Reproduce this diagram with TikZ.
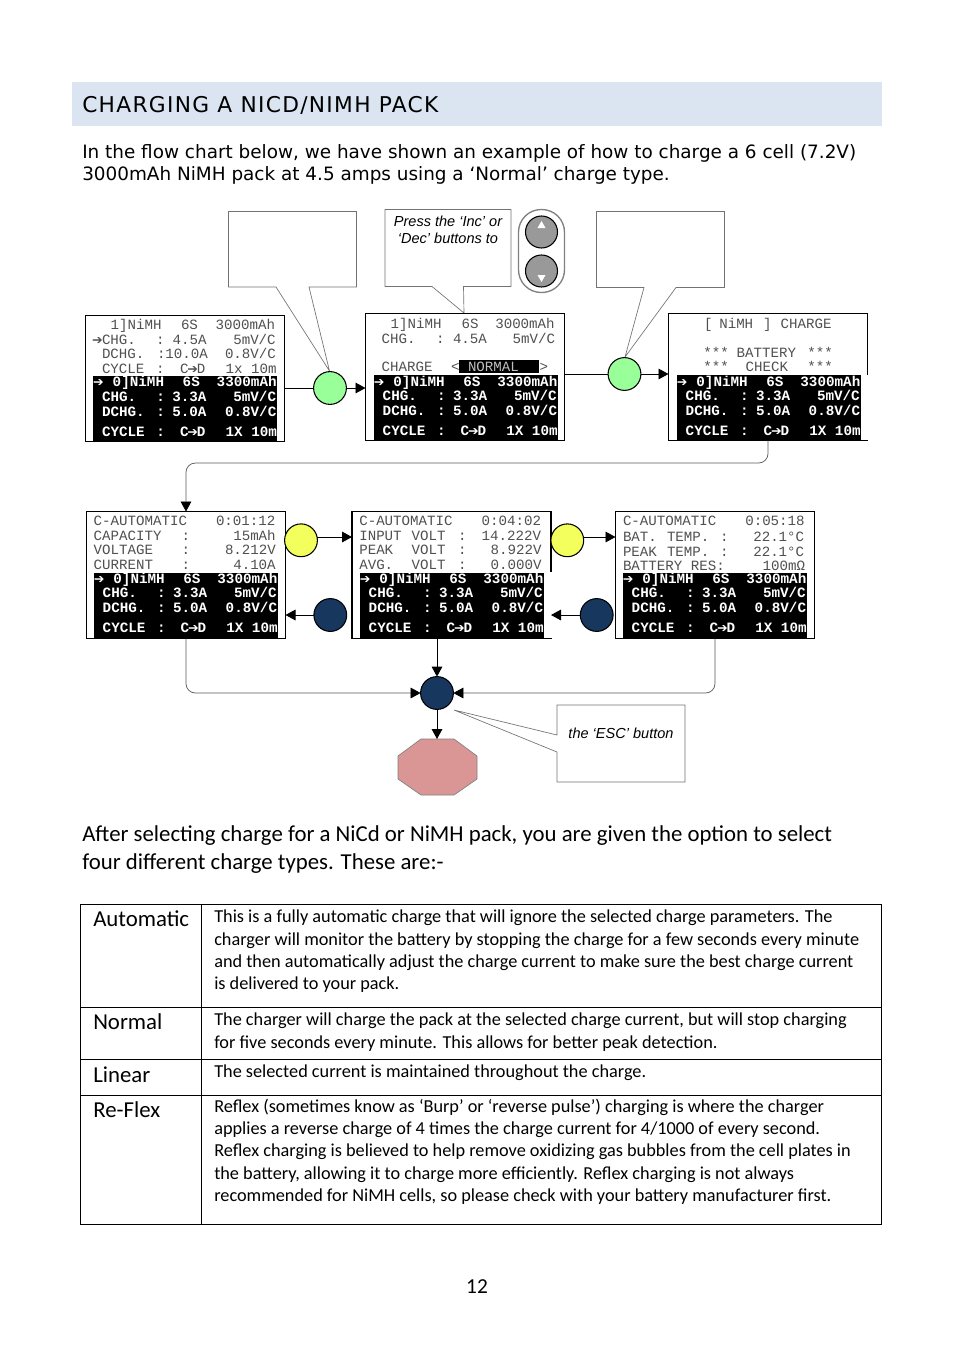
\documentclass[tikz,border=0pt]{standalone}
\usepackage{fontspec}
\usetikzlibrary{arrows.meta,fit}
\setmainfont{Carlito}
\setmonofont{Liberation Mono}
\newfontfamily\symf{DejaVu Sans}
\newfontfamily\vfont{DejaVu Sans}
\newfontfamily\hfont[LetterSpace=6]{DejaVu Sans}
\newfontfamily\afont{Liberation Sans}
\definecolor{lcdgrey}{HTML}{505050}
\definecolor{navy}{HTML}{17375E}
\definecolor{lime}{HTML}{99FF99}
\definecolor{lemon}{HTML}{F2FF5C}
\definecolor{band}{HTML}{DBE5F1}
\definecolor{rosy}{HTML}{D99694}
\newcounter{tn}
\tikzset{
  lcdg/.style={anchor=base west,inner sep=0pt,outer sep=0pt,text=lcdgrey,font=\ttfamily\fontsize{10.6}{12}\selectfont},
  lcdb/.style={anchor=base west,inner sep=0pt,outer sep=0pt,text=white,font=\ttfamily\bfseries\fontsize{10.7}{12}\selectfont},
  screenbox/.style={draw=black,line width=0.9pt,fill=white,inner sep=0pt,outer sep=0pt},
  callout/.style={draw=black!55,line width=0.5pt,fill=white,line join=miter},
  note/.style={inner sep=0pt,align=center,font=\afont\itshape\fontsize{10.9}{12.4}\selectfont},
  dot/.style={circle,draw=black,line width=0.8pt,inner sep=0pt,minimum size=24.6pt,outer sep=0pt},
  flow/.style={draw=black,line width=0.7pt,-{Triangle[length=7.5pt,width=8pt]}},
  plainflow/.style={draw=black,line width=0.7pt},
  softflow/.style={draw=black!65,line width=0.55pt,rounded corners=7pt},
  softarrow/.style={softflow,-{Triangle[length=7.5pt,width=8pt,color=black]}},
  cellhead/.style={anchor=base west,inner sep=0pt,font=\fontsize{17.1}{20}\selectfont},
  cellbody/.style={anchor=north west,inner sep=0pt,align=left,font=\fontsize{13.7}{16.6}\selectfont},
  rule/.style={draw=black,line width=0.6pt},
}
\newcommand\ga[3]{\stepcounter{tn}\node[lcdg] (tx\arabic{tn}) at (#1,#2) {#3};}
\newcommand\wa[3]{\stepcounter{tn}\node[lcdb] (tx\arabic{tn}) at (#1,#2) {#3};}
\newcommand\arw{\makebox[6.3pt]{\symf\fontsize{9.5}{10}\selectfont ➔}}
\newcommand\panel[2]{%
  \begin{scope}[shift={(#1,#2)}]
  \fill[black] (0,0) rectangle (184,65);
  \wa{1}{10.7}{\arw}\wa{19.4}{10.7}{0]NiMH}\wa{89.4}{10.7}{6S}\wa{123.4}{10.7}{3300mAh}
  \wa{8.7}{25}{CHG.}\wa{63}{25}{:}\wa{79}{25}{3.3A}\wa{140}{25}{5mV/C}
  \wa{8.7}{40}{DCHG.}\wa{63}{40}{:}\wa{79}{40}{5.0A}\wa{131.7}{40}{0.8V/C}
  \wa{8.7}{60}{CYCLE}\wa{63}{60}{:}\wa{86.7}{60}{C\arw D}\wa{132.3}{60}{1X 10m}
  \end{scope}}
\begin{document}
\begin{tikzpicture}[x=0.75pt,y=-0.75pt]
\useasboundingbox (0,0) rectangle (954,1354);
% heading
\fill[band] (72,82) rectangle (882,126);
\node[anchor=base west,inner sep=0pt,font=\hfont\fontsize{16.3}{18}\selectfont] (head) at (82,112) {CHARGING A NICD/NIMH PACK};
\node[anchor=north west,inner sep=0pt,align=left,font=\vfont\fontsize{13.8}{16}\selectfont] (intro) at (82,144.7) {In the flow chart below, we have shown an example of how to charge a 6 cell (7.2V)\\3000mAh NiMH pack at 4.5 amps using a ‘Normal’ charge type.};
% callouts
\draw[callout] (228.5,211.5) -- (356.5,211.5) -- (356.5,287) -- (309,287) -- (329.5,371) -- (276,287) -- (228.5,287) -- cycle;
\draw[callout] (385,209.5) -- (511,209.5) -- (511,286.5) -- (463.5,286.5) -- (464,313) -- (432,286.5) -- (385,286.5) -- cycle;
\draw[callout] (596.5,211.5) -- (724.5,211.5) -- (724.5,287.5) -- (676,287.5) -- (625,357) -- (644,287.5) -- (596.5,287.5) -- cycle;
\node[note] (n1) at (448,230) {Press the ‘Inc’ or\\‘Dec’ buttons to};
% buttons
\draw[draw=black!50,line width=1pt,fill=white,rounded corners=17pt] (518.5,209.5) rectangle (564.5,292.5);
\node[dot,fill=black!40,minimum size=24pt] (b1) at (541.5,232) {};
\node[dot,fill=black!40,minimum size=24pt] (b2) at (541.5,271) {};
\fill[white] (541.5,221) -- (545.5,228) -- (537.5,228) -- cycle;
\fill[white] (541.5,282) -- (545.5,275) -- (537.5,275) -- cycle;
% screens
\node[screenbox,fit={(85.5,315.5)(284.5,441.5)}] (s1) {};
\node[screenbox,fit={(365.5,313.5)(564.5,440.5)}] (s2) {};
\node[screenbox,fit={(668.5,313.5)(867.5,440.5)}] (s3) {};
\node[screenbox,fit={(86.5,511.5)(285.5,638.5)}] (s4) {};
\node[screenbox,fit={(352,511.5)(551,638.5)}] (s5) {};
\node[screenbox,fit={(615.5,511.5)(814.5,638.5)}] (s6) {};
\fill[white] (866,375) rectangle (869,439.6);
\fill[white] (549.5,572) rectangle (552,637.6);
% screen 1
\ga{110.7}{329}{1]NiMH}\ga{181}{329}{6S}\ga{215.7}{329}{3000mAh}
\ga{93.3}{344}{\arw}\ga{102}{344}{CHG.}\ga{156}{344}{:}\ga{172.7}{344}{4.5A}\ga{233.3}{344}{5mV/C}
\ga{102}{358}{DCHG.}\ga{157}{358}{:10.0A}\ga{225}{358}{0.8V/C}
\ga{102}{373}{CYCLE}\ga{156}{373}{:}\ga{180}{373}{C\arw D}\ga{225.7}{373}{1x 10m}
\panel{93.3}{376}
% screen 2
\ga{390.7}{328.5}{1]NiMH}\ga{461.7}{328.5}{6S}\ga{495.3}{328.5}{3000mAh}
\ga{381.7}{343}{CHG.}\ga{436}{343}{:}\ga{453}{343}{4.5A}\ga{512.7}{343}{5mV/C}
\ga{381.7}{371}{CHARGE}\ga{451}{371}{<}\ga{539.7}{371}{>}
\fill[black] (459.3,360) rectangle (539,373);
\ga{468}{371}{\textcolor{black!25}{NORMAL}}
\panel{374}{375.4}
% screen 3
\ga{704}{328.5}{[}\ga{719.3}{328.5}{NiMH}\ga{763}{328.5}{]}\ga{780.7}{328.5}{CHARGE}
\ga{703.3}{357}{***}\ga{736.7}{357}{BATTERY}\ga{807.3}{357}{***}
\ga{703.3}{371}{***}\ga{745.7}{371}{CHECK}\ga{807.3}{371}{***}
\panel{677}{375.4}
% screen 4
\ga{93.7}{525}{C-AUTOMATIC}\ga{216}{525}{0:01:12}
\ga{93.7}{540}{CAPACITY}\ga{181.7}{540}{:}\ga{233.3}{540}{15mAh}
\ga{93.7}{554.5}{VOLTAGE}\ga{181.7}{554.5}{:}\ga{225}{554.5}{8.212V}
\ga{93.7}{569}{CURRENT}\ga{181.7}{569}{:}\ga{233.3}{569}{4.10A}
\panel{94}{572.5}
% screen 5
\ga{359.3}{525}{C-AUTOMATIC}\ga{481.7}{525}{0:04:02}
\ga{359.3}{540}{INPUT}\ga{411.7}{540}{VOLT}\ga{458}{540}{:}\ga{481.7}{540}{14.222V}
\ga{359.3}{554.5}{PEAK}\ga{411.7}{554.5}{VOLT}\ga{458}{554.5}{:}\ga{490.7}{554.5}{8.922V}
\ga{359.3}{569}{AVG.}\ga{411.7}{569}{VOLT}\ga{458}{569}{:}\ga{490.7}{569}{0.000V}
\panel{360}{572.5}
% screen 6
\ga{623}{525}{C-AUTOMATIC}\ga{745.3}{525}{0:05:18}
\ga{623}{541.7}{BAT.}\ga{667}{541.7}{TEMP.}\ga{720}{541.7}{:}\ga{753.3}{541.7}{22.1°C}
\ga{623}{556.7}{PEAK}\ga{667}{556.7}{TEMP.}\ga{720}{556.7}{:}\ga{753.3}{556.7}{22.1°C}
\ga{623}{570.5}{BATTERY RES:}\ga{762.7}{570.5}{100mΩ}
\panel{623}{572.5}
% dots
\node[dot,fill=lime] (g1) at (330,388) {};
\node[dot,fill=lime] (g2) at (624.5,374) {};
\node[dot,fill=lemon] (y1) at (301,540.3) {};
\node[dot,fill=lemon] (y2) at (567.3,540.3) {};
\node[dot,fill=navy] (d1) at (330.3,615) {};
\node[dot,fill=navy] (d2) at (596.7,615) {};
\node[dot,fill=navy] (d3) at (437,693) {};
% octagon
\draw[draw=black!50,line width=0.5pt,fill=rosy] (421,739) -- (454,739) -- (477,756) -- (477,779) -- (454,795) -- (421,795) -- (398,779) -- (398,756) -- cycle;
\coordinate (oct) at (437,739);
% connectors
\draw[plainflow] (s1.east |- g1) -- (g1.west);
\draw[flow] (g1.east) -- (s2.west |- g1);
\draw[plainflow] (s2.east |- g2) -- (g2.west);
\draw[flow] (g2.east) -- (s3.west |- g2);
\coordinate (yl1) at (y1.east |- 0,537);
\coordinate (yl2) at (y2.east |- 0,537);
\draw[flow] (yl1) -- (s5.west |- yl1);
\draw[flow] (yl2) -- (s6.west |- yl2);
\draw[flow] (d1.west) -- (s4.east |- d1);
\draw[flow] (d2.west) -- (s5.east |- d2);
\draw[softarrow] (s3.south) |- (186,463) -- (s4.north);
\draw[softarrow] (s4.south) |- (d3.west);
\draw[softarrow] (s6.south) |- (d3.east);
\draw[flow] (s5.south -| d3) -- (d3.north);
\draw[flow] (d3.south) -- (oct);
% esc callout
\draw[callout] (557,705) -- (685,705) -- (685,782) -- (557,782) -- (557,752) -- (454,710) -- (557,735) -- cycle;
\node[note] (n2) at (621,733) {the ‘ESC’ button};
% text
\node[anchor=north west,inner sep=0pt,align=left,font=\fontsize{17.1}{21}\selectfont] (after) at (82,825) {After selecting charge for a NiCd or NiMH pack, you are given the option to select\\four different charge types. These are:-};
% table
\draw[rule] (80.5,904.5) rectangle (881.5,1224.5);
\draw[rule] (201,904.5) -- (201,1224.5);
\draw[rule] (80.5,1007) -- (881.5,1007);
\draw[rule] (80.5,1059) -- (881.5,1059);
\draw[rule] (80.5,1095) -- (881.5,1095);
\node[cellhead] (h1) at (93,926) {Automatic};
\node[cellhead] (h2) at (93,1029) {Normal};
\node[cellhead] (h3) at (93,1082) {Linear};
\node[cellhead] (h4) at (93,1117) {Re-Flex};
\node[cellbody] (c1) at (214,910) {This is a fully automatic charge that will ignore the selected charge parameters. The\\charger will monitor the battery by stopping the charge for a few seconds every minute\\and then automatically adjust the charge current to make sure the best charge current\\is delivered to your pack.};
\node[cellbody] (c2) at (214,1013) {The charger will charge the pack at the selected charge current, but will stop charging\\for five seconds every minute. This allows for better peak detection.};
\node[cellbody] (c3) at (214,1065) {The selected current is maintained throughout the charge.};
\node[cellbody] (c4) at (214,1099) {Reflex (sometimes know as ‘Burp’ or ‘reverse pulse’) charging is where the charger\\applies a reverse charge of 4 times the charge current for 4/1000 of every second.\\Reflex charging is believed to help remove oxidizing gas bubbles from the cell plates in\\the battery, allowing it to charge more efficiently. Reflex charging is not always\\recommended for NiMH cells, so please check with your battery manufacturer first.};
\node[inner sep=0pt,font=\fontsize{16}{20}\selectfont] (pg) at (477,1287) {12};
\end{tikzpicture}
\end{document}
